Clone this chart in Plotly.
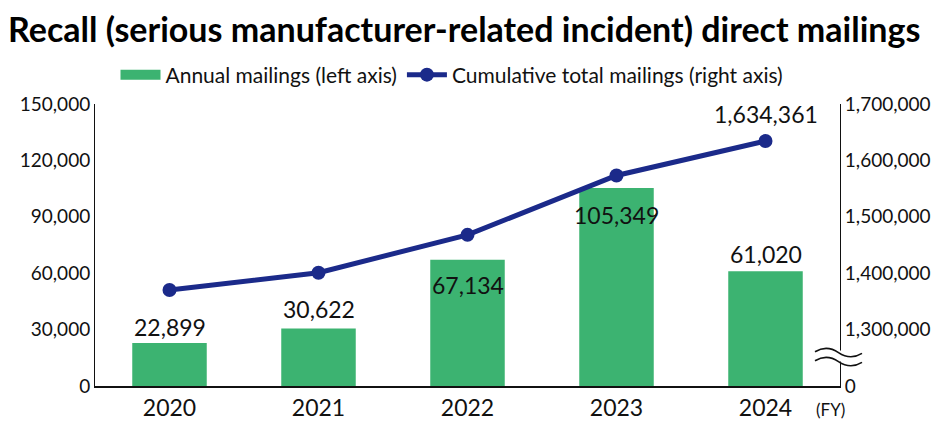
import plotly.graph_objects as go

years = ["2020", "2021", "2022", "2023", "2024"]
annual = [22899, 30622, 67134, 105349, 61020]
cumulative = [1370236, 1400858, 1467992, 1573341, 1634361]
left_ticks = [0, 30000, 60000, 90000, 120000, 150000]
right_tickvals = [1200000, 1300000, 1400000, 1500000, 1600000, 1700000]
right_ticktext = ["0", "1,300,000", "1,400,000", "1,500,000", "1,600,000", "1,700,000"]
label_shift = [16, 19, -25, -27, 17]

GREEN = "#3cb371"
NAVY = "#1b2a8a"
FONT = "Lato"
WT = 400

# page body has an 8px margin; figure is sized to fit the 945x425 window
OFF = 8
FW, FH = 945 - OFF, 425 - OFF
TOP, BOT, LEFT, RIGHT = 104, 386.5, 95, 840

fig = go.Figure()
fig.add_trace(go.Bar(
    x=years, y=annual, name="Annual mailings (left axis)", showlegend=False,
    marker=dict(color=GREEN, line=dict(width=0)), width=0.5, yaxis="y",
))
fig.add_trace(go.Scatter(
    x=[None], y=[None], name="Annual mailings (left axis)", mode="lines",
    line=dict(color=GREEN, width=12), yaxis="y",
))
fig.add_trace(go.Scatter(
    x=years, y=cumulative, name="Cumulative total mailings (right axis)",
    mode="lines+markers", line=dict(color=NAVY, width=5),
    marker=dict(color=NAVY, size=14), yaxis="y2",
))

lab_font = dict(size=23, color="#111", family=FONT, weight=WT)
for i, (v, s) in enumerate(zip(annual, label_shift)):
    fig.add_annotation(x=i, xref="x", y=v, yref="y", text=f"{v:,}", showarrow=False,
                       yshift=s, font=lab_font)
fig.add_annotation(x=len(years) - 1, xref="x", y=cumulative[-1], yref="y2",
                   text=f"{cumulative[-1]:,}", showarrow=False, yshift=27, font=lab_font)

W = RIGHT - LEFT
H = BOT - TOP
def px(xp):
    return (xp - LEFT) / W
def py(yp):
    return (BOT - yp) / H

fig.add_annotation(x=px(830), xref="paper", xanchor="center", y=py(410), yref="paper",
                   yanchor="middle", text="(FY)", showarrow=False,
                   font=dict(size=17, color="#111", family=FONT, weight=WT))

# axis break symbol on right axis
x0, x1 = px(815), px(862)
def wave(yc):
    xm = (x0 + x1) / 2
    a = 4 / H
    return (f"M {x0},{py(yc)+a*0.2} Q {x0+(x1-x0)/4},{py(yc)+a*2} {xm},{py(yc)} "
            f"T {x1},{py(yc)-a*0.2}")
fig.add_shape(type="rect", xref="paper", yref="paper", x0=px(836), x1=px(844),
              y0=py(362), y1=py(351), fillcolor="white", line=dict(width=0), layer="above")
for yc in (353, 362):
    fig.add_shape(type="path", xref="paper", yref="paper", path=wave(yc),
                  line=dict(color="#111", width=1.6), layer="above")

tick_font = dict(size=19, family=FONT, weight=WT, color="#111")
fig.update_layout(
    width=FW, height=FH,
    margin=dict(l=LEFT - OFF, r=945 - RIGHT, t=TOP - OFF, b=425 - BOT, autoexpand=False),
    paper_bgcolor="white", plot_bgcolor="white",
    font=dict(family=FONT, color="#111"),
    title=dict(text="<b>Recall (serious manufacturer-related incident) direct mailings</b>",
               x=0, xanchor="left", xref="container", y=1 - (30 - OFF) / FH, yanchor="middle",
               yref="container", font=dict(size=34, family=FONT, color="#000")),
    legend=dict(orientation="h", x=(452 - OFF) / FW, xanchor="center", xref="container",
                y=1 - (75 - OFF) / FH, yanchor="middle", yref="container",
                font=dict(size=21, family=FONT, weight=WT), traceorder="normal",
                itemwidth=40, tracegroupgap=0),
    bargap=0.5,
    xaxis=dict(type="category", range=[-0.5, 4.5], showline=True, linecolor="#111",
               linewidth=2, ticks="", showgrid=False, automargin=False,
               tickfont=dict(size=23, family=FONT, weight=WT, color="#111")),
    yaxis=dict(range=[0, 150000], tickvals=left_ticks, tickformat=",", showline=True,
               linecolor="#111", linewidth=1, ticks="", showgrid=False, zeroline=False,
               automargin=False, tickfont=tick_font),
    yaxis2=dict(range=[1200000, 1700000], overlaying="y", side="right",
                tickvals=right_tickvals, ticktext=right_ticktext, showline=True,
                linecolor="#111", linewidth=1, ticks="", showgrid=False, zeroline=False,
                automargin=False, tickfont=tick_font),
)

fig.write_html("out.html")
